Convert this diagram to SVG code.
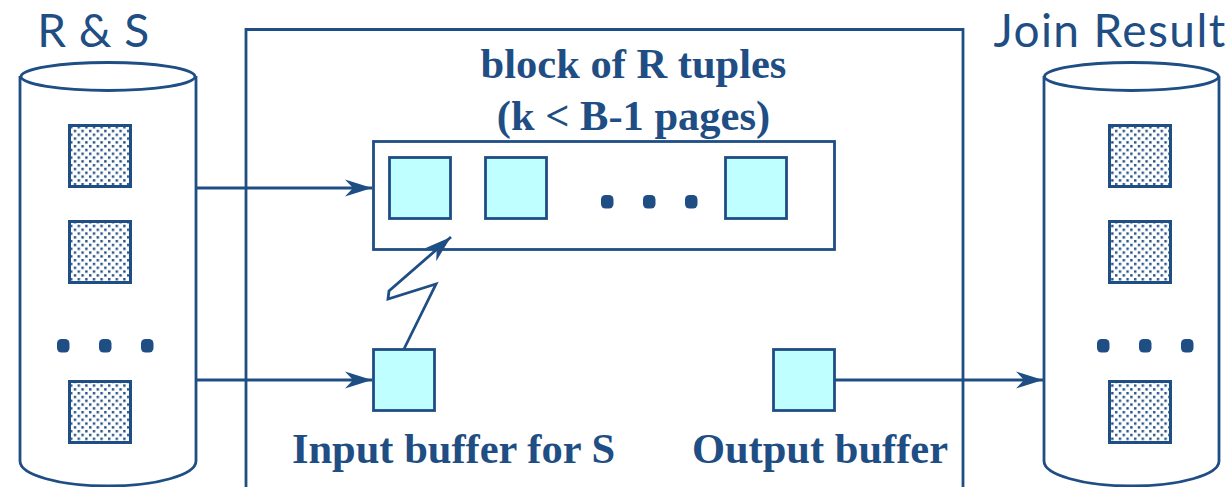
<svg xmlns="http://www.w3.org/2000/svg" width="1232" height="487" viewBox="0 0 1232 487">
<style>
.l{fill:none;stroke:#1f4e84;stroke-width:2.8}
.page{fill:url(#dots);stroke:#1f4e84;stroke-width:3}
.buf{fill:#bfffff;stroke:#1f4e84;stroke-width:2.8}
.dot{fill:#1f4e84}
.t{font-family:"Liberation Serif",serif;font-weight:bold;font-size:42.500px;fill:#1f4e84;text-anchor:middle}
.h{font-family:Lato,"Open Sans",sans-serif;font-size:46px;fill:#1f4e84;text-anchor:middle}
</style>
<defs>
<pattern id="dots" width="7.600" height="7.600" patternUnits="userSpaceOnUse" x="69" y="125">
<rect width="7.600" height="7.600" fill="#fff"/>
<rect x="1" y="1" width="2.400" height="2.400" fill="#1f4e84"/>
<rect x="4.800" y="4.800" width="2.400" height="2.400" fill="#1f4e84"/>
</pattern>
<marker id="arr" markerUnits="userSpaceOnUse" markerWidth="30" markerHeight="20" refX="27" refY="10" orient="auto">
<path d="M0 1.500 L27 10 L0 18.500 L8 10Z" fill="#1f4e84"/>
</marker>
</defs>
<g id="memory"><path class="l" d="M246 487V29.500H963V487"/></g>
<g id="disk-rs">
<path class="l" d="M20 76V461C20 475 60 486 108 486S196 475 196 461V76"/>
<ellipse class="l" cx="108" cy="76.500" rx="87" ry="14"/>
<rect class="page" x="69.500" y="125.500" width="61" height="61"/>
<rect class="page" x="69.500" y="221.500" width="61" height="61"/>
<rect class="page" x="69.500" y="381.500" width="61" height="61"/>
<rect class="dot" x="57" y="339" width="12.500" height="13.500" rx="4.500"/>
<rect class="dot" x="99" y="339" width="12.500" height="13.500" rx="4.500"/>
<rect class="dot" x="141" y="339" width="12.500" height="13.500" rx="4.500"/>
<text class="h" x="93.500" y="47" letter-spacing="0.500">R &amp; S</text>
</g>
<g id="disk-result">
<path class="l" d="M1044 76V461C1044 475 1084 486 1131.500 486S1219 475 1219 461V76"/>
<ellipse class="l" cx="1131.500" cy="76.500" rx="87" ry="14"/>
<rect class="page" x="1109.500" y="125.500" width="61" height="61"/>
<rect class="page" x="1109.500" y="221.500" width="61" height="61"/>
<rect class="page" x="1109.500" y="381.500" width="61" height="61"/>
<rect class="dot" x="1097" y="339" width="12.500" height="13.500" rx="4.500"/>
<rect class="dot" x="1139" y="339" width="12.500" height="13.500" rx="4.500"/>
<rect class="dot" x="1181" y="339" width="12.500" height="13.500" rx="4.500"/>
<text class="h" x="1110" y="47" letter-spacing="1.400">Join Result</text>
</g>
<g id="block">
<text class="t" x="633.500" y="78">block of R tuples</text>
<text class="t" x="633.500" y="130">(k &lt; B-1 pages)</text>
<rect class="l" x="373.500" y="141.500" width="461" height="108"/>
<rect class="buf" x="389.500" y="157.500" width="61" height="61"/>
<rect class="buf" x="485.500" y="157.500" width="61" height="61"/>
<rect class="buf" x="725.500" y="157.500" width="61" height="61"/>
<rect class="dot" x="601" y="195" width="12.500" height="13.500" rx="4.500"/>
<rect class="dot" x="643" y="195" width="12.500" height="13.500" rx="4.500"/>
<rect class="dot" x="685" y="195" width="12.500" height="13.500" rx="4.500"/>
</g>
<g id="input-buffer">
<rect class="buf" x="373.500" y="349.500" width="61" height="61"/>
<text class="t" x="453.500" y="463">Input buffer for S</text>
</g>
<g id="output-buffer">
<rect class="buf" x="773.500" y="349.500" width="61" height="61"/>
<text class="t" x="820" y="463">Output buffer</text>
</g>
<g id="connectors">
<path class="l" marker-end="url(#arr)" d="M196 188H372"/>
<path class="l" marker-end="url(#arr)" d="M196 380H372"/>
<path class="l" marker-end="url(#arr)" d="M835 380H1043"/>
<path class="l" marker-end="url(#arr)" d="M404 349L436 284L388 299L389 291L451 237"/>
</g>
</svg>
